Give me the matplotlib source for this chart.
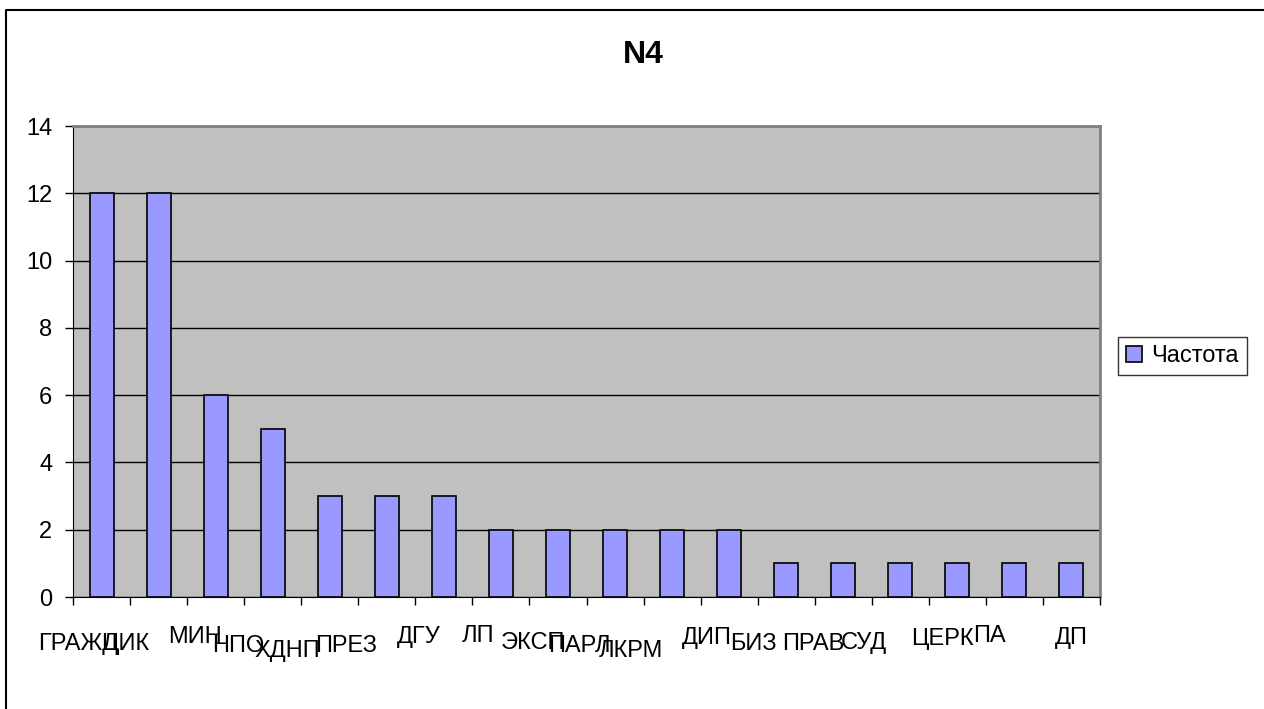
import matplotlib.pyplot as plt
from matplotlib.lines import Line2D

plt.rcParams['font.family'] = ['Liberation Sans', 'DejaVu Sans']

categories = ['ГРАЖД', 'ЦИК', 'МИН', 'НПО', 'ХДНП', 'ПРЕЗ', 'ДГУ', 'ЛП', 'ЭКСП',
              'ПАРЛ', 'ЛКРМ', 'ДИП', 'БИЗ', 'ПРАВ', 'СУД', 'ЦЕРК', 'ПА', 'ДП']
freq = [12, 12, 6, 5, 3, 3, 3, 2, 2, 2, 2, 2, 1, 1, 1, 1, 1, 1]
yticks = [0, 2, 4, 6, 8, 10, 12, 14]

# the old excel chart puts the category labels a bit off centre, up and down
label_dx = [-0.40, -0.58, -0.37, -0.61, -0.74, -0.72, -0.44, -0.40, -0.44,
            -0.63, -0.72, -0.40, -0.58, -0.53, -0.63, -0.26, -0.44, 0.0]
label_base = [650, 650, 643, 652, 657, 652, 643, 642, 649,
              652, 657, 644, 650, 650, 649, 645, 642, 644]

W, H = 1264, 709
fig = plt.figure(figsize=(W / 100, H / 100), dpi=100)
ax = fig.add_axes([73 / W, 1 - 597 / H, (1100 - 73) / W, (597 - 126) / H])
ax.set_facecolor('#c0c0c0')

x = list(range(len(categories)))
ax.bar(x, freq, width=0.42, color='#9999ff', edgecolor='black', linewidth=1.2,
       label='Частота', zorder=3)

ax.set_xlim(-0.5, len(categories) - 0.5)
ax.set_ylim(0, 14)
ax.set_yticks(yticks)
ax.yaxis.grid(True, color='black', linewidth=1.0, zorder=1)
ax.set_axisbelow(True)
ax.tick_params(axis='y', direction='out', length=6, width=1, labelsize=17, pad=9)

# ticks between categories, labels drawn by hand
ax.set_xticks([i - 0.5 for i in range(len(categories) + 1)])
ax.set_xticklabels([])
ax.tick_params(axis='x', direction='out', length=6, width=1)

for s in ['top', 'right']:
    ax.spines[s].set_color('#808080')
    ax.spines[s].set_linewidth(2)
ax.spines['left'].set_color('black')
ax.spines['bottom'].set_color('black')

for i, name in enumerate(categories):
    ya = -(label_base[i] - 597) / (597 - 126)
    ax.text(i + label_dx[i], ya, name, transform=ax.get_xaxis_transform(),
            ha='center', va='baseline', fontsize=17)

fig.text(643 / W, 1 - 63 / H, 'N4', ha='center', va='baseline',
         fontsize=23, fontweight='bold')

leg = ax.legend(loc='center left', bbox_to_anchor=(1118 / W, 1 - 356 / H),
                bbox_transform=fig.transFigure, fontsize=17, frameon=True,
                fancybox=False, handlelength=0.68, handleheight=0.68,
                handletextpad=0.38, borderpad=0.35, borderaxespad=0)
leg.get_frame().set_edgecolor('black')
leg.get_frame().set_linewidth(1)

# outer chart border (only top and left are inside the picture)
fig.add_artist(Line2D([6 / W, 6 / W, 1.0], [0.0, 1 - 10 / H, 1 - 10 / H],
                      transform=fig.transFigure, color='black', linewidth=1.5))

fig.savefig('out.png', dpi=100)
